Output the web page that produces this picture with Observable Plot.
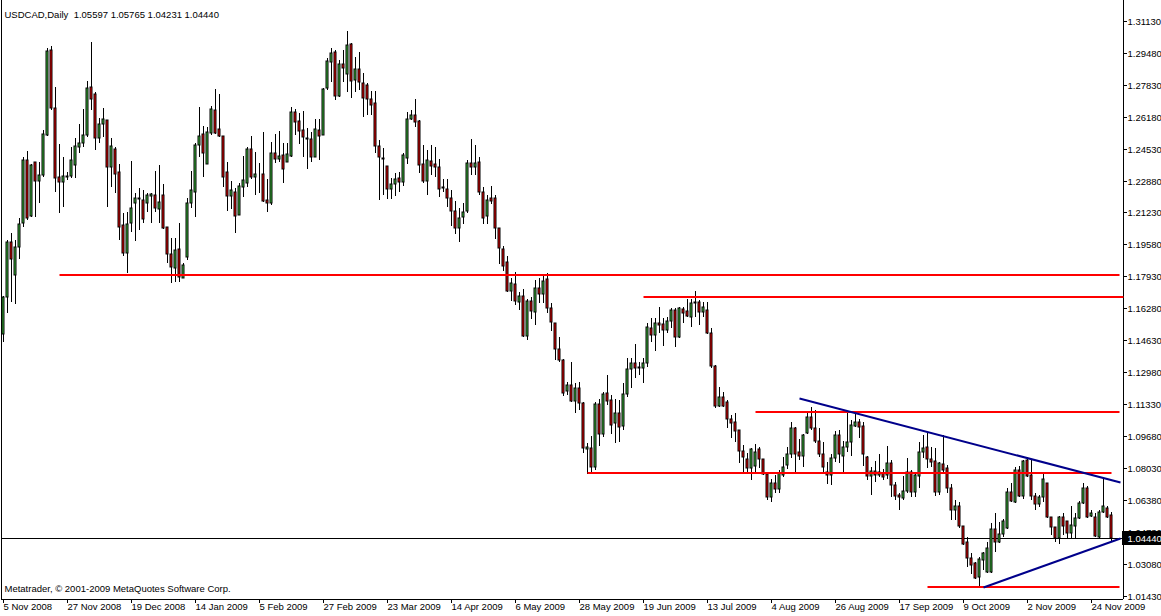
<!DOCTYPE html>
<html><head><meta charset="utf-8">
<script src="https://cdn.jsdelivr.net/npm/d3@7"></script>
<script src="https://cdn.jsdelivr.net/npm/@observablehq/plot@0.6"></script>
<style>html,body{margin:0;padding:0;background:#fff;} #chart svg{display:block;}</style>
</head><body><div id="chart"></div>
<script>
const opens = [
1.1496,1.1687,1.1971,1.1800,1.1945,1.2069,1.2394,1.2105,1.2384,1.2286,
1.2317,1.2523,1.2962,1.2662,1.2306,1.2280,1.2311,1.2311,1.2368,1.2461,
1.2482,1.2523,1.2771,1.2735,1.2508,1.2580,1.2600,1.2358,1.2451,1.2332,
1.2058,1.1914,1.2069,1.2172,1.2198,1.2187,1.2172,1.2208,1.2213,1.2141,
1.2213,1.2048,1.1909,1.1836,1.1934,1.1785,1.1893,1.2172,1.2229,1.2471,
1.2528,1.2373,1.2533,1.2652,1.2554,1.2518,1.2332,1.2208,1.2229,1.2110,
1.2255,1.2275,1.2451,1.2306,1.2322,1.2322,1.2187,1.2172,1.2430,1.2399,
1.2420,1.2384,1.2415,1.2642,1.2595,1.2549,1.2508,1.2502,1.2410,1.2549,
1.2523,1.2766,1.2900,1.2952,1.2724,1.2890,1.2838,1.2993,1.2807,1.2864,
1.2792,1.2781,1.2709,1.2688,1.2466,1.2404,1.2363,1.2244,1.2270,1.2301,
1.2280,1.2404,1.2606,1.2626,1.2595,1.2373,1.2286,1.2389,1.2373,1.2358,
1.2255,1.2244,1.2198,1.2131,1.2043,1.2100,1.2131,1.2378,1.2358,1.2384,
1.2229,1.2105,1.2198,1.2198,1.2043,1.1934,1.1867,1.1718,1.1754,1.1661,
1.1692,1.1485,1.1666,1.1609,1.1733,1.1702,1.1780,1.1630,1.1552,1.1418,
1.1361,1.1201,1.1232,1.1150,1.1217,1.1139,1.0902,1.0907,1.0809,1.1134,
1.0979,1.1191,1.1155,1.1036,1.1088,1.1021,1.1186,1.1315,1.1346,1.1320,
1.1320,1.1346,1.1527,1.1490,1.1552,1.1547,1.1516,1.1563,1.1620,1.1480,
1.1625,1.1614,1.1583,1.1656,1.1661,1.1609,1.1620,1.1501,1.1330,1.1124,
1.1170,1.1145,1.1057,1.1041,1.1000,1.0892,1.0850,1.0804,1.0814,1.0902,
1.0850,1.0773,1.0654,1.0726,1.0695,1.0768,1.0819,1.0876,1.1010,1.0886,
1.0866,1.0984,1.1067,1.1010,1.0943,1.0876,1.0783,1.0768,1.0855,1.0974,
1.0866,1.0912,1.0938,1.1021,1.1041,1.1021,1.0861,1.0762,1.0788,1.0768,
1.0778,1.0768,1.0830,1.0716,1.0664,1.0649,1.0685,1.0783,1.0680,1.0762,
1.0886,1.0912,1.0850,1.0840,1.0680,1.0824,1.0804,1.0701,1.0587,1.0608,
1.0504,1.0422,1.0339,1.0313,1.0241,1.0329,1.0267,1.0267,1.0489,1.0422,
1.0463,1.0494,1.0680,1.0628,1.0793,1.0659,1.0845,1.0768,1.0659,1.0618,
1.0654,1.0726,1.0551,1.0499,1.0442,1.0551,1.0530,1.0468,1.0504,1.0546,
1.0623,1.0701,1.0556,1.0551,1.0448,1.0577,1.0597,1.05597];
const highs = [
1.1692,1.1981,1.2017,1.1981,1.2095,1.2410,1.2440,1.2373,1.2384,1.2384,
1.2549,1.2972,1.2983,1.2771,1.2477,1.2410,1.2332,1.2461,1.2508,1.2580,
1.2657,1.2802,1.3003,1.2745,1.2611,1.2662,1.2600,1.2508,1.2461,1.2373,
1.2120,1.2126,1.2389,1.2224,1.2249,1.2239,1.2224,1.2224,1.2337,1.2368,
1.2270,1.2048,1.1991,1.1991,1.2069,1.1862,1.2198,1.2337,1.2482,1.2668,
1.2569,1.2564,1.2673,1.2761,1.2735,1.2518,1.2384,1.2286,1.2249,1.2275,
1.2415,1.2461,1.2518,1.2435,1.2378,1.2539,1.2296,1.2487,1.2528,1.2544,
1.2482,1.2482,1.2668,1.2657,1.2637,1.2647,1.2559,1.2539,1.2606,1.2606,
1.2766,1.2921,1.2972,1.2962,1.2910,1.2962,1.3060,1.2998,1.2926,1.2952,
1.2843,1.2792,1.2750,1.2750,1.2497,1.2456,1.2363,1.2301,1.2327,1.2332,
1.2430,1.2642,1.2652,1.2709,1.2600,1.2471,1.2446,1.2471,1.2461,1.2399,
1.2296,1.2296,1.2239,1.2182,1.2146,1.2172,1.2394,1.2502,1.2471,1.2410,
1.2255,1.2213,1.2260,1.2213,1.2043,1.1950,1.1898,1.1785,1.1816,1.1712,
1.1728,1.1676,1.1687,1.1774,1.1785,1.1795,1.1811,1.1656,1.1552,1.1480,
1.1367,1.1248,1.1351,1.1243,1.1248,1.1145,1.0933,1.0969,1.1145,1.1160,
1.1196,1.1284,1.1181,1.1160,1.1155,1.1243,1.1372,1.1372,1.1444,1.1351,
1.1372,1.1552,1.1578,1.1578,1.1635,1.1578,1.1583,1.1630,1.1630,1.1635,
1.1635,1.1676,1.1676,1.1718,1.1671,1.1661,1.1661,1.1527,1.1336,1.1222,
1.1196,1.1155,1.1077,1.1088,1.1000,1.0923,1.0881,1.0907,1.0928,1.0912,
1.0850,1.0783,1.0747,1.0768,1.0793,1.0861,1.0912,1.1041,1.1015,1.0953,
1.0979,1.1098,1.1119,1.1103,1.1010,1.0938,1.0835,1.0876,1.0995,1.1000,
1.0943,1.1088,1.1052,1.1093,1.1057,1.1041,1.0866,1.0809,1.0840,1.0876,
1.0799,1.0917,1.0845,1.0732,1.0675,1.0762,1.0855,1.0793,1.0778,1.0938,
1.0974,1.0990,1.0912,1.0907,1.0835,1.0974,1.0819,1.0721,1.0639,1.0628,
1.0504,1.0448,1.0365,1.0318,1.0344,1.0370,1.0422,1.0520,1.0571,1.0525,
1.0540,1.0701,1.0726,1.0809,1.0814,1.0845,1.0861,1.0845,1.0675,1.0664,
1.0773,1.0726,1.0551,1.0499,1.0556,1.0571,1.0530,1.0608,1.0571,1.0633,
1.0726,1.0711,1.0587,1.0571,1.0587,1.0747,1.0608,1.05765];
const lows = [
1.1454,1.1604,1.1661,1.1650,1.1883,1.2048,1.2084,1.2100,1.2100,1.2172,
1.2306,1.2518,1.2652,1.2229,1.2120,1.2151,1.2291,1.2301,1.2301,1.2430,
1.2461,1.2513,1.2652,1.2446,1.2482,1.2513,1.2151,1.2255,1.2224,1.1981,
1.1898,1.1811,1.2022,1.1976,1.2033,1.2069,1.2126,1.2069,1.2126,1.2069,
1.2038,1.1862,1.1759,1.1764,1.1764,1.1785,1.1878,1.2146,1.2100,1.2410,
1.2306,1.2373,1.2523,1.2528,1.2513,1.2255,1.2131,1.2141,1.2017,1.2110,
1.2203,1.2255,1.2296,1.2213,1.2224,1.2177,1.2126,1.2162,1.2378,1.2384,
1.2275,1.2384,1.2410,1.2523,1.2477,1.2410,1.2347,1.2384,1.2410,1.2394,
1.2523,1.2755,1.2797,1.2704,1.2719,1.2797,1.2745,1.2714,1.2745,1.2755,
1.2616,1.2626,1.2626,1.2430,1.2187,1.2213,1.2193,1.2193,1.2208,1.2229,
1.2260,1.2373,1.2600,1.2564,1.2327,1.2275,1.2213,1.2317,1.2306,1.2203,
1.2229,1.2151,1.2053,1.2012,1.1971,1.2063,1.2120,1.2317,1.2317,1.2213,
1.2063,1.2063,1.2167,1.1986,1.1857,1.1821,1.1712,1.1666,1.1645,1.1620,
1.1480,1.1465,1.1573,1.1542,1.1656,1.1656,1.1604,1.1511,1.1361,1.1351,
1.1175,1.1181,1.1145,1.1088,1.1103,1.0881,1.0773,1.0783,1.0793,1.0917,
1.0964,1.1129,1.0979,1.0933,1.0938,1.1000,1.1170,1.1217,1.1268,1.1284,
1.1243,1.1325,1.1454,1.1408,1.1501,1.1434,1.1501,1.1527,1.1429,1.1475,
1.1552,1.1583,1.1532,1.1583,1.1542,1.1583,1.1496,1.1320,1.1114,1.1119,
1.1119,1.1010,1.0959,1.0938,1.0830,1.0783,1.0778,1.0742,1.0778,1.0804,
1.0768,1.0639,1.0628,1.0675,1.0675,1.0757,1.0799,1.0855,1.0783,1.0845,
1.0809,1.0979,1.1000,1.0933,1.0861,1.0783,1.0721,1.0716,1.0835,1.0830,
1.0783,1.0886,1.0866,1.1015,1.0959,1.0814,1.0742,1.0664,1.0732,1.0757,
1.0742,1.0747,1.0654,1.0639,1.0587,1.0639,1.0675,1.0654,1.0654,1.0701,
1.0855,1.0804,1.0809,1.0659,1.0664,1.0783,1.0675,1.0535,1.0535,1.0494,
1.0406,1.0293,1.0256,1.0231,1.0192,1.0277,1.0262,1.0262,1.0370,1.0417,
1.0448,1.0489,1.0628,1.0623,1.0654,1.0644,1.0757,1.0639,1.0587,1.0602,
1.0628,1.0546,1.0458,1.0422,1.0411,1.0458,1.0442,1.0442,1.0442,1.0540,
1.0618,1.0546,1.0551,1.0448,1.0442,1.0571,1.0546,1.04231];
const closes = [
1.1687,1.1971,1.1883,1.1945,1.2063,1.2394,1.2095,1.2368,1.2286,1.2317,
1.2528,1.2957,1.2662,1.2301,1.2280,1.2311,1.2306,1.2394,1.2466,1.2482,
1.2523,1.2766,1.2709,1.2508,1.2580,1.2606,1.2358,1.2466,1.2322,1.2048,
1.1914,1.2063,1.2146,1.2198,1.2195,1.2089,1.2213,1.2218,1.2146,1.2177,
1.2043,1.1909,1.1842,1.1929,1.1790,1.1852,1.2172,1.2239,1.2471,1.2518,
1.2430,1.2539,1.2657,1.2533,1.2518,1.2306,1.2208,1.2239,1.2105,1.2260,
1.2291,1.2451,1.2306,1.2322,1.2320,1.2182,1.2172,1.2430,1.2399,1.2415,
1.2347,1.2425,1.2642,1.2590,1.2544,1.2513,1.2502,1.2410,1.2554,1.2518,
1.2761,1.2905,1.2946,1.2724,1.2890,1.2869,1.2988,1.2802,1.2864,1.2797,
1.2714,1.2709,1.2678,1.2466,1.2410,1.2401,1.2244,1.2270,1.2296,1.2280,
1.2420,1.2606,1.2626,1.2590,1.2368,1.2286,1.2394,1.2363,1.2358,1.2244,
1.2249,1.2198,1.2131,1.2043,1.2095,1.2126,1.2378,1.2358,1.2378,1.2229,
1.2095,1.2187,1.2182,1.2043,1.1940,1.1847,1.1718,1.1759,1.1666,1.1692,
1.1485,1.1666,1.1614,1.1733,1.1702,1.1769,1.1630,1.1558,1.1418,1.1361,
1.1191,1.1232,1.1150,1.1217,1.1139,1.0907,1.0912,1.0809,1.1134,1.0979,
1.1186,1.1150,1.1026,1.1088,1.1015,1.1186,1.1315,1.1346,1.1320,1.1325,
1.1346,1.1532,1.1490,1.1552,1.1542,1.1516,1.1563,1.1620,1.1480,1.1630,
1.1604,1.1589,1.1656,1.1661,1.1609,1.1635,1.1501,1.1330,1.1124,1.1170,
1.1124,1.1057,1.1036,1.0995,1.0892,1.0861,1.0804,1.0902,1.0886,1.0850,
1.0773,1.0654,1.0726,1.0695,1.0778,1.0809,1.0876,1.1010,1.0876,1.0866,
1.0974,1.1067,1.1010,1.0943,1.0876,1.0809,1.0768,1.0855,1.0974,1.0876,
1.0912,1.0938,1.1026,1.1041,1.1015,1.0876,1.0762,1.0788,1.0768,1.0783,
1.0757,1.0830,1.0716,1.0659,1.0654,1.0685,1.0783,1.0680,1.0768,1.0886,
1.0907,1.0850,1.0835,1.0680,1.0830,1.0793,1.0701,1.0587,1.0608,1.0504,
1.0411,1.0339,1.0303,1.0236,1.0334,1.0365,1.0391,1.0489,1.0422,1.0463,
1.0530,1.0680,1.0633,1.0793,1.0659,1.0840,1.0762,1.0659,1.0618,1.0654,
1.0747,1.0551,1.0499,1.0442,1.0551,1.0504,1.0468,1.0509,1.0546,1.0623,
1.0701,1.0551,1.0571,1.0453,1.0577,1.0608,1.0551,1.04440];

// horizontal red levels (start bar, end bar, price)
const redStart = [14, 160, 188, 146, 231];
const redEnd   = [279, 280, 279, 277, 279];
const redPrice = [1.1800, 1.1688, 1.1094, 1.0776, 1.0192];
// blue trend lines
const blueX1 = [199, 245];
const blueY1 = [1.1164, 1.0192];
const blueX2 = [279.25, 279.25];
const blueY2 = [1.0733, 1.0441];

const yTicks = [1.01430,1.03080,1.04730,1.06380,1.08030,1.09680,1.11330,1.12980,1.14630,1.16280,1.17930,1.19580,1.21230,1.22880,1.24530,1.26180,1.27830,1.29480,1.31130];
const xTicks = [0,16,32,48,64,80,96,112,128,144,160,176,192,208,224,240,256,272];
const dateLabels = ["5 Nov 2008","27 Nov 2008","19 Dec 2008","14 Jan 2009","5 Feb 2009","27 Feb 2009","23 Mar 2009","14 Apr 2009","6 May 2009","28 May 2009","19 Jun 2009","13 Jul 2009","4 Aug 2009","26 Aug 2009","17 Sep 2009","9 Oct 2009","2 Nov 2009","24 Nov 2009"];

const titleText = "USDCAD,Daily  1.05597 1.05765 1.04231 1.04440";
const copyrightText = "Metatrader, \u00A9 2001-2009 MetaQuotes Software Corp.";

const idx = d3.range(opens.length);
const last = closes[closes.length - 1];
const bull = "#3cc03c", bear = "#f00000";
const redIdx = d3.range(redPrice.length);
const blueIdx = d3.range(blueX1.length);
const XMIN = -0.5, XMAX = 280;
const YMIN = 1.01275, YMAX = 1.32199;

const chart = Plot.plot({
  width: 1161, height: 616,
  marginTop: 0, marginBottom: 17, marginLeft: 1, marginRight: 38,
  x: {type: "linear", domain: [XMIN, XMAX], round: true},
  y: {type: "linear", domain: [YMIN, YMAX], round: true},
  color: {type: "identity"},
  style: {background: "white", fontFamily: "'Liberation Sans', Arial, sans-serif", fontSize: "9.5px", color: "black", overflow: "visible"},
  marks: [
    Plot.axisY(yTicks, {anchor: "right", tickSize: 3, tickPadding: 1, tickFormat: d => d.toFixed(5), label: null, fontSize: 9.5}),
    Plot.axisX(xTicks, {anchor: "bottom", tickSize: 4, tickPadding: 0, tickFormat: d => dateLabels[xTicks.indexOf(d)], textAnchor: "start", label: null, fontSize: 9.5}),
    Plot.ruleX([XMIN, XMAX], {stroke: "black"}),
    Plot.ruleY([YMIN], {stroke: "black"}),
    Plot.ruleY([last], {stroke: "black", strokeWidth: 1}),
    Plot.ruleX(idx, {x: i => i, y1: i => lows[i], y2: i => highs[i], stroke: "black", strokeWidth: 1}),
    Plot.rect(idx, {x1: i => i - 0.25, x2: i => i + 0.25, y1: i => opens[i], y2: i => closes[i],
      fill: i => closes[i] >= opens[i] ? bull : bear, stroke: "black", strokeWidth: 1, inset: 0}),
    Plot.link(redIdx, {x1: i => redStart[i], x2: i => redEnd[i], y1: i => redPrice[i], y2: i => redPrice[i], dy: -0.5, stroke: "#ff0000", strokeWidth: 2}),
    Plot.link(blueIdx, {x1: i => blueX1[i], x2: i => blueX2[i], y1: i => blueY1[i], y2: i => blueY2[i], stroke: "#00008b", strokeWidth: 2}),
    Plot.rect([last], {x1: XMAX, x2: XMAX, y1: d => d, y2: d => d, insetLeft: -1, insetRight: -38, insetTop: -7, insetBottom: -7, fill: "black"}),
    Plot.text([last], {x: XMAX, y: d => d, text: d => d.toFixed(5), fill: "white", textAnchor: "start", dx: 4, fontSize: 9.5}),
    Plot.text([titleText], {frameAnchor: "top-left", text: d => d, dx: 3, dy: 11, textAnchor: "start", fontSize: 9.5}),
    Plot.text([copyrightText], {frameAnchor: "bottom-left", text: d => d, dx: 3, dy: -8, textAnchor: "start", fontSize: 9.5})
  ]
});
document.getElementById("chart").appendChild(chart);
</script>
</body></html>
